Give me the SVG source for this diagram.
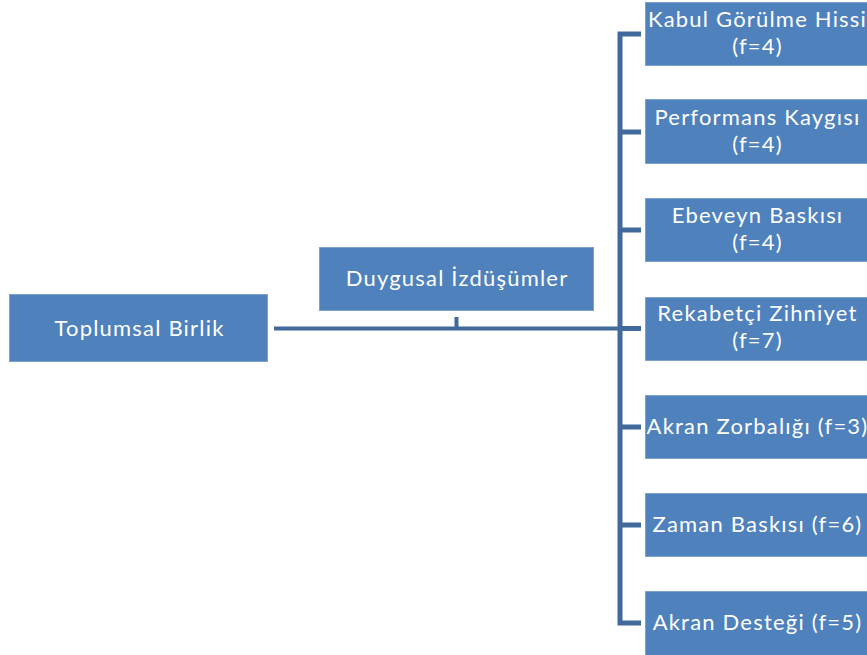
<svg xmlns="http://www.w3.org/2000/svg" width="867" height="655" viewBox="0 0 867 655">
<style>
.box{fill:#4F81BD;stroke:#7EA1D0;stroke-width:1}
.t{fill:#FFFFFF;font-family:Lato,"Open Sans","Liberation Sans",sans-serif;font-size:22px;letter-spacing:1.2px;text-anchor:middle}
.c{fill:none;stroke:#41699B;stroke-linejoin:miter}
</style>
<rect width="867" height="655" fill="#FFFFFF"/>
<g id="connectors">
<path class="c" stroke-width="4" d="M274 328.5H620"/>
<path class="c" stroke-width="4" d="M456.5 317V328.5"/>
<path class="c" stroke-width="5" d="M641 34H620V623H641"/>
<path class="c" stroke-width="5" d="M620 132H641M620 230H641M620 328.5H641M620 427H641M620 525H641"/>
</g>
<g id="n-toplumsal">
<rect class="box" x="9.5" y="294.5" width="258" height="67"/>
<text class="t" x="139.5" y="336">Toplumsal Birlik</text>
</g>
<g id="n-duygusal">
<rect class="box" x="319.5" y="247.5" width="274" height="63"/>
<text class="t" x="457" y="286">Duygusal İzdüşümler</text>
</g>
<g id="n-kabul">
<rect class="box" x="645.5" y="2.5" width="226" height="63"/>
<text class="t" y="27"><tspan x="757.5">Kabul Görülme Hissi</tspan><tspan x="757.5" dy="27">(f=4)</tspan></text>
</g>
<g id="n-performans">
<rect class="box" x="645.5" y="99.5" width="226" height="64"/>
<text class="t" y="125"><tspan x="757.5">Performans Kaygısı</tspan><tspan x="757.5" dy="27">(f=4)</tspan></text>
</g>
<g id="n-ebeveyn">
<rect class="box" x="645.5" y="198.5" width="226" height="63"/>
<text class="t" y="223"><tspan x="757.5">Ebeveyn Baskısı</tspan><tspan x="757.5" dy="27">(f=4)</tspan></text>
</g>
<g id="n-rekabetci">
<rect class="box" x="645.5" y="297.5" width="226" height="63"/>
<text class="t" y="321"><tspan x="757.5">Rekabetçi Zihniyet</tspan><tspan x="757.5" dy="27">(f=7)</tspan></text>
</g>
<g id="n-zorbalik">
<rect class="box" x="645.5" y="395.5" width="226" height="63"/>
<text class="t" x="757.5" y="434">Akran Zorbalığı (f=3)</text>
</g>
<g id="n-zaman">
<rect class="box" x="645.5" y="493.5" width="226" height="63"/>
<text class="t" x="757.5" y="532">Zaman Baskısı (f=6)</text>
</g>
<g id="n-destek">
<rect class="box" x="645.5" y="591.5" width="226" height="66"/>
<text class="t" x="757.5" y="630">Akran Desteği (f=5)</text>
</g>
</svg>
